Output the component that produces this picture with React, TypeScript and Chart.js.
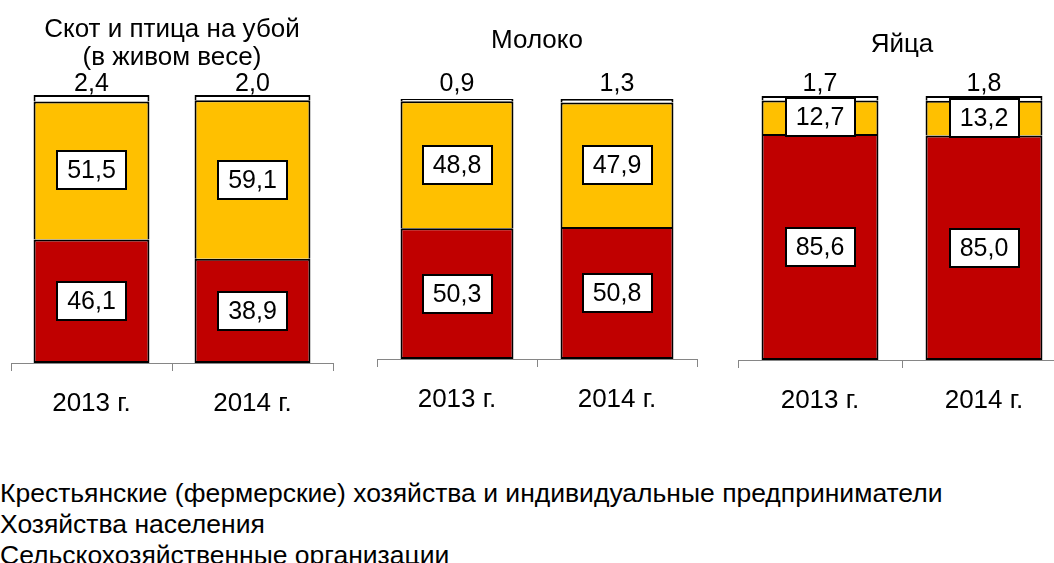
import React, { useEffect, useRef } from 'react';
import { Chart, registerables } from 'chart.js';

Chart.register(...registerables);

const FONT = "'Liberation Sans', Arial, sans-serif";

const categories = ['2013 г.', '2014 г.'];
const seriesNames = [
  'Сельскохозяйственные организации',
  'Хозяйства населения',
  'Крестьянские (фермерские) хозяйства и индивидуальные предприниматели',
];
const seriesColors = ['#C00000', '#FFC000', '#FFFFFF'];

const livestockTitle = ['Скот и птица на убой', '(в живом весе)'];
const livestockAgri = [46.1, 38.9];
const livestockHouse = [51.5, 59.1];
const livestockFarm = [2.4, 2.0];

const milkTitle = ['Молоко'];
const milkAgri = [50.3, 50.8];
const milkHouse = [48.8, 47.9];
const milkFarm = [0.9, 1.3];

const eggsTitle = ['Яйца'];
const eggsAgri = [85.6, 85.0];
const eggsHouse = [12.7, 13.2];
const eggsFarm = [1.7, 1.8];

const panels = [
  { title: livestockTitle, series: [livestockAgri, livestockHouse, livestockFarm], left: 0, width: 345, padL: 11, padR: 12, padB: 0, titleTop: 15.5, titleBottom: 23.5, bar: 0.72, topGap: 11 },
  { title: milkTitle, series: [milkAgri, milkHouse, milkFarm], left: 366, width: 343, padL: 11, padR: 12, padB: 4, titleTop: 27, titleBottom: 44, bar: 0.706, topGap: 14.5 },
  { title: eggsTitle, series: [eggsAgri, eggsHouse, eggsFarm], left: 727, width: 351, padL: 11, padR: 12, padB: 3, titleTop: 31, titleBottom: 37, bar: 0.713, topGap: 12 },
];

const fmt = (v: number) => v.toFixed(1).replace('.', ',');

const labelPlugin = {
  id: 'segLabels',
  afterDatasetsDraw(chart: any, _args: any, opts: any) {
    const ctx = chart.ctx;
    ctx.save();
    ctx.font = `25px ${FONT}`;
    ctx.textAlign = 'center';
    ctx.textBaseline = 'middle';
    chart.data.datasets.forEach((ds: any, di: number) => {
      const meta = chart.getDatasetMeta(di);
      meta.data.forEach((el: any, i: number) => {
        const txt = fmt(ds.data[i] as number);
        const x = el.x;
        if (di === 2) {
          ctx.fillStyle = '#000';
          ctx.fillText(txt, x, el.y - (opts.topGap || 12));
        } else {
          const cy = Math.round((el.y + el.base) / 2);
          const w = Math.round(ctx.measureText(txt).width + 20);
          const h = 38;
          const bx = Math.round(x - w / 2);
          const by = Math.round(cy - h / 2);
          ctx.fillStyle = '#fff';
          ctx.fillRect(bx, by, w, h);
          ctx.lineWidth = 2;
          ctx.strokeStyle = '#000';
          ctx.strokeRect(bx, by, w, h);
          ctx.fillStyle = '#000';
          ctx.fillText(txt, x, cy + 1);
        }
      });
    });
    ctx.restore();
  },
};

const borderWidths = [
  { top: 2, bottom: 2, left: 2, right: 2 },
  { top: 2, bottom: 0, left: 2, right: 2 },
  { top: 2, bottom: 0, left: 2, right: 2 },
];

function Panel({ p }: { p: any }) {
  const ref = useRef<HTMLCanvasElement>(null);
  useEffect(() => {
    if (!ref.current) return;
    const chart = new Chart(ref.current, {
      type: 'bar',
      data: {
        labels: categories,
        datasets: p.series.map((arr: number[], i: number) => ({
          label: seriesNames[i],
          data: arr,
          backgroundColor: seriesColors[i],
          borderColor: '#000000',
          borderWidth: borderWidths[i],
          borderSkipped: false,
          categoryPercentage: 1,
          barPercentage: p.bar,
        })),
      },
      options: {
        responsive: false,
        animation: false,
        devicePixelRatio: 1,
        layout: { padding: { left: p.padL, right: p.padR, top: 0, bottom: p.padB } },
        plugins: {
          legend: { display: false },
          tooltip: { enabled: false },
          title: {
            display: true,
            text: p.title,
            color: '#000',
            font: { family: FONT, size: 26, weight: 'normal', lineHeight: 28 / 26 },
            padding: { top: p.titleTop, bottom: p.titleBottom },
          },
          segLabels: { topGap: p.topGap },
        } as any,
        scales: {
          x: {
            stacked: true,
            afterFit: (scale: any) => { scale.height = 67; },
            grid: { display: true, drawOnChartArea: false, drawTicks: true, tickLength: 8, offset: true, color: '#868686', lineWidth: 1 },
            border: { display: true, color: '#868686', width: 1 },
            ticks: { color: '#000', font: { family: FONT, size: 26 }, padding: 17, maxRotation: 0 },
          },
          y: { stacked: true, display: false, min: 0, max: 100 },
        },
      } as any,
      plugins: [labelPlugin],
    });
    return () => chart.destroy();
  }, [p]);
  return (
    <canvas
      ref={ref}
      width={p.width}
      height={430}
      style={{ position: 'absolute', left: p.left, top: 0, width: p.width, height: 430 }}
    />
  );
}

export default function App() {
  const legendLines = [...seriesNames].reverse();
  return (
    <div style={{ position: 'fixed', left: 0, top: 0, width: 1054, height: 563, overflow: 'hidden', background: '#fff' }}>
      {panels.map((p, i) => <Panel key={i} p={p} />)}
      <div style={{ position: 'absolute', left: 0, top: 478, fontFamily: FONT, fontSize: 26.5, lineHeight: '31px', color: '#000', whiteSpace: 'nowrap' }}>
        {legendLines.map((t, i) => <div key={i}>{t}</div>)}
      </div>
    </div>
  );
}
